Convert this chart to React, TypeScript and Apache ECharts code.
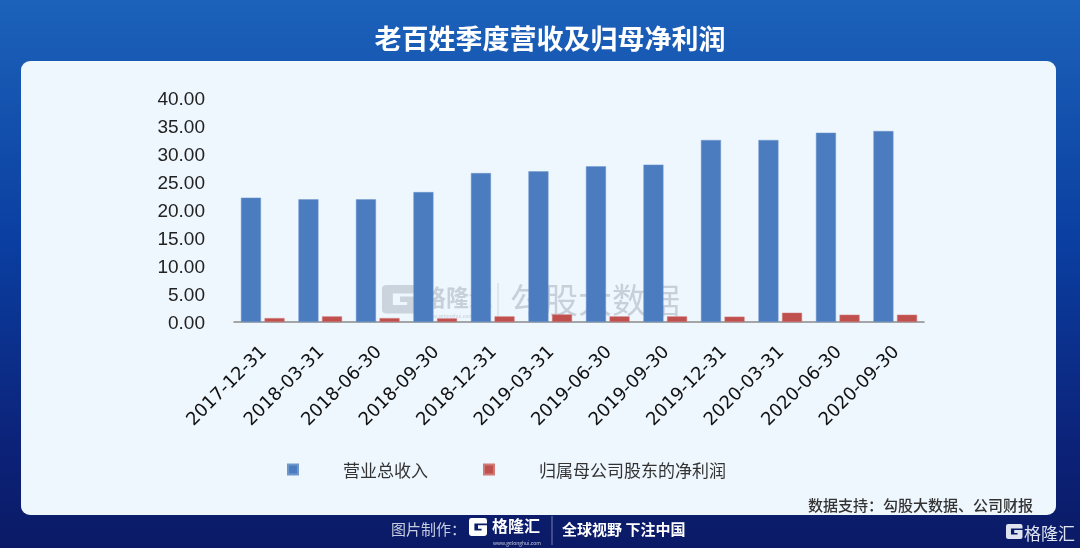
import React, { useEffect, useRef } from "react";
import * as echarts from "echarts";

const title = "老百姓季度营收及归母净利润";
const categories = [
  "2017-12-31", "2018-03-31", "2018-06-30", "2018-09-30",
  "2018-12-31", "2019-03-31", "2019-06-30", "2019-09-30",
  "2019-12-31", "2020-03-31", "2020-06-30", "2020-09-30",
];
const revenue = [22.2, 21.9, 21.9, 23.2, 26.6, 26.9, 27.8, 28.1, 32.5, 32.5, 33.8, 34.1];
const netProfit = [0.7, 1.0, 0.7, 0.65, 1.0, 1.35, 1.0, 1.0, 0.95, 1.65, 1.3, 1.3];
const seriesNames = ["营业总收入", "归属母公司股东的净利润"];
const yTicks = { min: 0, max: 40, interval: 5 };
const sourceText = "数据支持：勾股大数据、公司财报";

const G_PATH =
  "M4 0 H26 Q30 0 30 4 V9 H9 V21 H21 V18 H15 V12 H30 V26 Q30 30 26 30 H4 Q0 30 0 26 V4 Q0 0 4 0 Z";
let registered = false;

export default function App() {
  const ref = useRef<HTMLDivElement>(null);
  useEffect(() => {
    if (!ref.current) return;
    if (!registered) {
      echarts.graphic.registerShape("glogo", echarts.graphic.extendPath(G_PATH, {}) as any);
      registered = true;
    }
    const chart = echarts.init(ref.current, null, { renderer: "svg" });
    const cjk = "'Noto Sans CJK SC', 'Noto Sans', sans-serif";
    chart.setOption({
      animation: false,
      graphic: [
        {
          type: "rect", z: -20, shape: { x: 0, y: 0, width: 1080, height: 548 },
          style: {
            fill: new echarts.graphic.LinearGradient(0, 0, 0, 1, [
              { offset: 0, color: "#1c62ba" },
              { offset: 0.45, color: "#0a3ea0" },
              { offset: 0.8, color: "#0c237a" },
              { offset: 1, color: "#0b1a66" },
            ]),
          },
        },
        {
          type: "rect", z: -18,
          shape: { x: 21, y: 61, width: 1035, height: 454, r: 9 },
          style: { fill: "#eef6fe" },
        },
        {
          type: "text", z: 10, x: 550, y: 37,
          style: {
            text: title, fill: "#ffffff", font: `bold 27px ${cjk}`,
            align: "center", verticalAlign: "middle",
          },
        },
        // watermark
        {
          type: "glogo", z: -5, x: 382, y: 285, scaleX: 1.2, scaleY: 0.95,
          style: { fill: "rgba(160,168,180,0.45)" },
        },
        {
          type: "text", z: -5, x: 423, y: 296,
          style: {
            text: "格隆汇", fill: "rgba(160,168,180,0.5)", font: `bold 23px ${cjk}`,
            verticalAlign: "middle",
          },
        },
        {
          type: "text", z: -5, x: 425, y: 315,
          style: {
            text: "www.gelonghui.com", fill: "rgba(160,168,180,0.5)", font: `5px ${cjk}`,
            verticalAlign: "middle",
          },
        },
        {
          type: "line", z: -5, shape: { x1: 498, y1: 283, x2: 498, y2: 318 },
          style: { stroke: "rgba(160,168,180,0.45)", lineWidth: 1 },
        },
        {
          type: "text", z: -5, x: 510, y: 298,
          style: {
            text: "勾股大数据", fill: "rgba(160,168,180,0.5)", font: `34px ${cjk}`,
            verticalAlign: "middle",
          },
        },
        // source
        {
          type: "text", z: 10, x: 1033, y: 504,
          style: {
            text: sourceText, fill: "#333333", font: `500 15px ${cjk}`,
            align: "right", verticalAlign: "middle",
          },
        },
        // bottom band
        {
          type: "text", z: 10, x: 391, y: 528,
          style: {
            text: "图片制作：", fill: "#c6cde0", font: `15px ${cjk}`,
            verticalAlign: "middle",
          },
        },
        {
          type: "glogo", z: 10, x: 469, y: 518, scaleX: 0.6, scaleY: 0.6,
          style: { fill: "#ffffff" },
        },
        {
          type: "text", z: 10, x: 492, y: 525,
          style: {
            text: "格隆汇", fill: "#ffffff", font: `bold 16px ${cjk}`,
            verticalAlign: "middle",
          },
        },
        {
          type: "text", z: 10, x: 493, y: 542,
          style: {
            text: "www.gelonghui.com", fill: "#c6cde0", font: `5px ${cjk}`,
            verticalAlign: "middle",
          },
        },
        {
          type: "line", z: 10, shape: { x1: 552, y1: 516, x2: 552, y2: 545 },
          style: { stroke: "rgba(255,255,255,0.45)", lineWidth: 1 },
        },
        {
          type: "text", z: 10, x: 562, y: 528,
          style: {
            text: "全球视野 下注中国", fill: "#ffffff", font: `bold 15px ${cjk}`,
            verticalAlign: "middle",
          },
        },
        {
          type: "glogo", z: 10, x: 1006, y: 524, scaleX: 0.55, scaleY: 0.5,
          style: { fill: "#dfe4f0" },
        },
        {
          type: "text", z: 10, x: 1024, y: 532,
          style: {
            text: "格隆汇", fill: "#dfe4f0", font: `17px ${cjk}`,
            verticalAlign: "middle",
          },
        },
      ],
      grid: { left: 234, right: 156, top: 98, bottom: 226, containLabel: false },
      legend: {
        left: 282, top: 456, padding: 5,
        itemWidth: 10, itemHeight: 10, itemGap: 55, icon: "rect",
        data: seriesNames,
        textStyle: { fontSize: 17, color: "#333333", fontFamily: cjk, padding: [0, 0, 0, 40] },
      },
      xAxis: {
        type: "category",
        data: categories,
        axisLine: { show: true, lineStyle: { color: "#8a8a8a", width: 1.5 } },
        axisTick: { show: false },
        axisLabel: {
          rotate: 45, interval: 0, margin: 26,
          fontSize: 18, color: "#111111", fontFamily: "'DejaVu Sans', sans-serif",
        },
      },
      yAxis: {
        type: "value",
        min: yTicks.min, max: yTicks.max, interval: yTicks.interval,
        axisLine: { show: false },
        axisTick: { show: false },
        splitLine: { show: false },
        axisLabel: {
          margin: 29, fontSize: 19, color: "#222222",
          fontFamily: "'Liberation Sans', Arial, sans-serif",
          formatter: (v: number) => v.toFixed(2),
        },
      },
      series: [
        {
          name: seriesNames[0], type: "bar", data: revenue, barWidth: 20, barGap: "18%",
          itemStyle: { color: "#4a7cbf", borderColor: "#6f97cc", borderWidth: 0.5 },
        },
        {
          name: seriesNames[1], type: "bar", data: netProfit, barWidth: 20, barGap: "18%",
          itemStyle: { color: "#c0504d", borderColor: "#d07a78", borderWidth: 0.5 },
        },
      ],
    });
    return () => chart.dispose();
  }, []);
  return (
    <div
      ref={ref}
      style={{ position: "fixed", left: 0, top: 0, width: 1080, height: 548 }}
    />
  );
}
